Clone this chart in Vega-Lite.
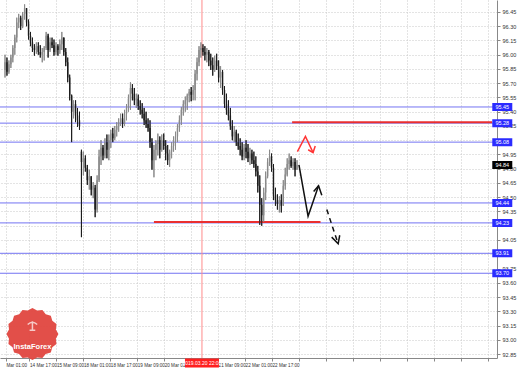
{
"$schema": "https://vega.github.io/schema/vega-lite/v6.json",
"width": 497, "height": 358,
"autosize": {"type": "none"},
"padding": {"left": 0, "top": 0, "right": 22, "bottom": 11},
"background": "white",
"config": {"view": {"stroke": null}, "font": "Liberation Sans",
"axis": {"labelOverlap": false, "labelBound": false, "labelFlush": false, "title": null}},
"datasets": {
"candles": [
{"b":0,"o":95.84,"h":96.00,"l":95.76,"c":95.92},
{"b":1,"o":95.92,"h":95.97,"l":95.78,"c":95.82},
{"b":2,"o":95.82,"h":95.94,"l":95.80,"c":95.90},
{"b":3,"o":95.90,"h":96.00,"l":95.86,"c":95.97},
{"b":4,"o":95.97,"h":96.10,"l":95.92,"c":96.07},
{"b":5,"o":96.07,"h":96.21,"l":96.00,"c":96.18},
{"b":6,"o":96.18,"h":96.39,"l":96.13,"c":96.34},
{"b":7,"o":96.34,"h":96.43,"l":96.28,"c":96.39},
{"b":8,"o":96.39,"h":96.41,"l":96.26,"c":96.30},
{"b":9,"o":96.30,"h":96.45,"l":96.28,"c":96.43},
{"b":10,"o":96.43,"h":96.53,"l":96.37,"c":96.49},
{"b":11,"o":96.49,"h":96.49,"l":96.30,"c":96.34},
{"b":12,"o":96.34,"h":96.37,"l":96.16,"c":96.20},
{"b":13,"o":96.20,"h":96.24,"l":96.09,"c":96.13},
{"b":14,"o":96.13,"h":96.18,"l":96.03,"c":96.07},
{"b":15,"o":96.07,"h":96.11,"l":95.99,"c":96.05},
{"b":16,"o":96.05,"h":96.13,"l":96.01,"c":96.09},
{"b":17,"o":96.09,"h":96.13,"l":96.00,"c":96.03},
{"b":18,"o":96.03,"h":96.10,"l":95.97,"c":96.00},
{"b":19,"o":96.00,"h":96.07,"l":95.92,"c":96.03},
{"b":20,"o":96.03,"h":96.09,"l":95.94,"c":96.07},
{"b":21,"o":96.07,"h":96.24,"l":96.05,"c":96.20},
{"b":22,"o":96.20,"h":96.22,"l":95.97,"c":96.05},
{"b":23,"o":96.05,"h":96.18,"l":96.03,"c":96.13},
{"b":24,"o":96.13,"h":96.18,"l":96.07,"c":96.10},
{"b":25,"o":96.10,"h":96.16,"l":95.99,"c":96.03},
{"b":26,"o":96.03,"h":96.13,"l":96.00,"c":96.09},
{"b":27,"o":96.09,"h":96.11,"l":95.99,"c":96.05},
{"b":28,"o":96.05,"h":96.16,"l":96.01,"c":96.11},
{"b":29,"o":96.11,"h":96.24,"l":96.05,"c":96.18},
{"b":30,"o":96.18,"h":96.18,"l":95.99,"c":96.03},
{"b":31,"o":96.03,"h":96.07,"l":95.88,"c":95.92},
{"b":32,"o":95.92,"h":95.97,"l":95.71,"c":95.76},
{"b":33,"o":95.76,"h":95.79,"l":95.52,"c":95.57},
{"b":34,"o":95.57,"h":95.58,"l":95.08,"c":95.40},
{"b":35,"o":95.40,"h":95.52,"l":95.33,"c":95.48},
{"b":36,"o":95.48,"h":95.52,"l":95.29,"c":95.36},
{"b":37,"o":95.36,"h":95.44,"l":95.24,"c":95.31},
{"b":38,"o":95.31,"h":95.40,"l":95.21,"c":95.25},
{"b":39,"o":94.98,"h":95.00,"l":94.08,"c":94.87},
{"b":40,"o":94.87,"h":94.98,"l":94.73,"c":94.91},
{"b":41,"o":94.91,"h":94.94,"l":94.77,"c":94.81},
{"b":42,"o":94.81,"h":94.84,"l":94.63,"c":94.68},
{"b":43,"o":94.68,"h":94.79,"l":94.58,"c":94.72},
{"b":44,"o":94.72,"h":94.72,"l":94.52,"c":94.58},
{"b":45,"o":94.58,"h":94.66,"l":94.49,"c":94.62},
{"b":46,"o":94.60,"h":94.63,"l":94.29,"c":94.37},
{"b":47,"o":94.37,"h":94.73,"l":94.34,"c":94.68},
{"b":48,"o":94.68,"h":95.00,"l":94.66,"c":94.93},
{"b":49,"o":94.93,"h":95.10,"l":94.84,"c":95.02},
{"b":50,"o":95.02,"h":95.05,"l":94.89,"c":94.94},
{"b":51,"o":94.94,"h":95.12,"l":94.91,"c":95.08},
{"b":52,"o":95.08,"h":95.16,"l":94.91,"c":95.00},
{"b":53,"o":95.00,"h":95.16,"l":94.89,"c":95.10},
{"b":54,"o":95.10,"h":95.21,"l":95.02,"c":95.17},
{"b":55,"o":95.17,"h":95.23,"l":95.08,"c":95.12},
{"b":56,"o":95.12,"h":95.25,"l":95.10,"c":95.21},
{"b":57,"o":95.21,"h":95.29,"l":95.14,"c":95.25},
{"b":58,"o":95.25,"h":95.33,"l":95.19,"c":95.29},
{"b":59,"o":95.29,"h":95.38,"l":95.25,"c":95.33},
{"b":60,"o":95.33,"h":95.38,"l":95.23,"c":95.27},
{"b":61,"o":95.27,"h":95.42,"l":95.25,"c":95.38},
{"b":62,"o":95.38,"h":95.48,"l":95.31,"c":95.44},
{"b":63,"o":95.44,"h":95.58,"l":95.40,"c":95.54},
{"b":64,"o":95.54,"h":95.71,"l":95.42,"c":95.65},
{"b":65,"o":95.65,"h":95.69,"l":95.52,"c":95.59},
{"b":66,"o":95.59,"h":95.65,"l":95.47,"c":95.52},
{"b":67,"o":95.52,"h":95.59,"l":95.44,"c":95.54},
{"b":68,"o":95.54,"h":95.58,"l":95.42,"c":95.46},
{"b":69,"o":95.46,"h":95.52,"l":95.37,"c":95.42},
{"b":70,"o":95.42,"h":95.49,"l":95.33,"c":95.38},
{"b":71,"o":95.38,"h":95.44,"l":95.26,"c":95.31},
{"b":72,"o":95.31,"h":95.40,"l":95.23,"c":95.27},
{"b":73,"o":95.27,"h":95.33,"l":95.19,"c":95.23},
{"b":74,"o":95.23,"h":95.31,"l":95.02,"c":95.08},
{"b":75,"o":95.08,"h":95.12,"l":94.79,"c":94.89},
{"b":76,"o":94.89,"h":95.05,"l":94.71,"c":95.00},
{"b":77,"o":95.00,"h":95.10,"l":94.89,"c":95.06},
{"b":78,"o":95.06,"h":95.17,"l":94.94,"c":95.10},
{"b":79,"o":95.10,"h":95.14,"l":94.91,"c":95.00},
{"b":80,"o":95.00,"h":95.16,"l":94.98,"c":95.10},
{"b":81,"o":95.10,"h":95.17,"l":95.00,"c":95.04},
{"b":82,"o":95.04,"h":95.10,"l":94.89,"c":94.96},
{"b":83,"o":94.96,"h":95.05,"l":94.84,"c":94.89},
{"b":84,"o":94.89,"h":95.00,"l":94.82,"c":94.98},
{"b":85,"o":94.98,"h":95.08,"l":94.91,"c":95.04},
{"b":86,"o":95.04,"h":95.14,"l":94.98,"c":95.10},
{"b":87,"o":95.10,"h":95.19,"l":95.00,"c":95.14},
{"b":88,"o":95.14,"h":95.27,"l":95.08,"c":95.23},
{"b":89,"o":95.23,"h":95.36,"l":95.19,"c":95.31},
{"b":90,"o":95.31,"h":95.45,"l":95.26,"c":95.42},
{"b":91,"o":95.42,"h":95.52,"l":95.36,"c":95.48},
{"b":92,"o":95.48,"h":95.56,"l":95.40,"c":95.52},
{"b":93,"o":95.52,"h":95.59,"l":95.42,"c":95.57},
{"b":94,"o":95.57,"h":95.64,"l":95.50,"c":95.61},
{"b":95,"o":95.61,"h":95.66,"l":95.51,"c":95.58},
{"b":96,"o":95.58,"h":95.68,"l":95.52,"c":95.63},
{"b":97,"o":95.63,"h":95.84,"l":95.52,"c":95.80},
{"b":98,"o":95.80,"h":95.97,"l":95.73,"c":95.92},
{"b":99,"o":95.92,"h":96.09,"l":95.88,"c":96.05},
{"b":100,"o":96.05,"h":96.13,"l":95.97,"c":96.07},
{"b":101,"o":96.07,"h":96.11,"l":95.99,"c":96.03},
{"b":102,"o":96.03,"h":96.09,"l":95.94,"c":96.00},
{"b":103,"o":96.00,"h":96.07,"l":95.92,"c":96.03},
{"b":104,"o":96.03,"h":96.05,"l":95.88,"c":95.94},
{"b":105,"o":95.94,"h":96.01,"l":95.84,"c":95.89},
{"b":106,"o":95.89,"h":95.97,"l":95.78,"c":95.84},
{"b":107,"o":95.84,"h":95.99,"l":95.82,"c":95.94},
{"b":108,"o":95.94,"h":96.01,"l":95.84,"c":95.88},
{"b":109,"o":95.88,"h":95.94,"l":95.71,"c":95.76},
{"b":110,"o":95.76,"h":95.88,"l":95.65,"c":95.82},
{"b":111,"o":95.82,"h":95.84,"l":95.58,"c":95.63},
{"b":112,"o":95.63,"h":95.67,"l":95.44,"c":95.48},
{"b":113,"o":95.48,"h":95.59,"l":95.37,"c":95.42},
{"b":114,"o":95.42,"h":95.52,"l":95.31,"c":95.36},
{"b":115,"o":95.36,"h":95.44,"l":95.21,"c":95.25},
{"b":116,"o":95.25,"h":95.31,"l":95.10,"c":95.14},
{"b":117,"o":95.14,"h":95.25,"l":95.08,"c":95.19},
{"b":118,"o":95.19,"h":95.21,"l":95.04,"c":95.08},
{"b":119,"o":95.08,"h":95.17,"l":95.00,"c":95.04},
{"b":120,"o":95.04,"h":95.12,"l":94.94,"c":95.00},
{"b":121,"o":95.00,"h":95.08,"l":94.89,"c":94.93},
{"b":122,"o":94.93,"h":95.06,"l":94.89,"c":95.02},
{"b":123,"o":95.02,"h":95.10,"l":94.91,"c":94.98},
{"b":124,"o":94.98,"h":95.06,"l":94.87,"c":94.91},
{"b":125,"o":94.91,"h":95.02,"l":94.84,"c":94.96},
{"b":126,"o":94.96,"h":95.00,"l":94.85,"c":94.89},
{"b":127,"o":94.89,"h":94.98,"l":94.81,"c":94.85},
{"b":128,"o":94.85,"h":94.93,"l":94.72,"c":94.77},
{"b":129,"o":94.77,"h":94.83,"l":94.55,"c":94.62},
{"b":130,"o":94.62,"h":94.73,"l":94.21,"c":94.42},
{"b":131,"o":94.42,"h":94.49,"l":94.20,"c":94.31},
{"b":132,"o":94.31,"h":94.60,"l":94.24,"c":94.55},
{"b":133,"o":94.55,"h":94.77,"l":94.47,"c":94.72},
{"b":134,"o":94.72,"h":94.91,"l":94.70,"c":94.87},
{"b":135,"o":94.87,"h":95.00,"l":94.83,"c":94.93},
{"b":136,"o":94.93,"h":94.96,"l":94.77,"c":94.81},
{"b":137,"o":94.81,"h":94.85,"l":94.47,"c":94.52},
{"b":138,"o":94.52,"h":94.60,"l":94.41,"c":94.47},
{"b":139,"o":94.47,"h":94.53,"l":94.37,"c":94.43},
{"b":140,"o":94.43,"h":94.51,"l":94.34,"c":94.47},
{"b":141,"o":94.47,"h":94.53,"l":94.34,"c":94.41},
{"b":142,"o":94.41,"h":94.68,"l":94.41,"c":94.62},
{"b":143,"o":94.62,"h":94.81,"l":94.58,"c":94.74},
{"b":144,"o":94.74,"h":94.91,"l":94.72,"c":94.85},
{"b":145,"o":94.85,"h":94.96,"l":94.79,"c":94.89},
{"b":146,"o":94.89,"h":94.93,"l":94.81,"c":94.83},
{"b":147,"o":94.83,"h":94.91,"l":94.79,"c":94.87},
{"b":148,"o":94.87,"h":94.91,"l":94.72,"c":94.79},
{"b":149,"o":94.79,"h":94.89,"l":94.79,"c":94.84}
],
"levels": [{"p":95.45},{"p":95.28},{"p":95.08},{"p":94.44},{"p":94.23},{"p":93.91},{"p":93.70}],
"redlevels": [{"x0":146.5,"x1":248.5,"p":95.29},{"x0":76,"x1":161,"p":94.24}],
"redarrow": [
{"g":1,"k":1,"x":149.2,"y":94.98},{"g":1,"k":2,"x":153.3,"y":95.14},{"g":1,"k":3,"x":157.2,"y":94.97},
{"g":2,"k":1,"x":154.7,"y":95.00},{"g":2,"k":2,"x":157.2,"y":94.97},{"g":2,"k":3,"x":158.3,"y":95.04}
],
"blackarrow": [
{"g":1,"k":1,"x":150,"y":94.84},{"g":1,"k":2,"x":154.65,"y":94.30},{"g":1,"k":3,"x":160,"y":94.62},
{"g":2,"k":1,"x":157.5,"y":94.56},{"g":2,"k":2,"x":160,"y":94.62},{"g":2,"k":3,"x":161.65,"y":94.52},
{"g":3,"k":1,"x":166.7,"y":94.08},{"g":3,"k":2,"x":170,"y":94.01},{"g":3,"k":3,"x":170.8,"y":94.10}
],
"dasharrow": [{"g":1,"k":1,"x":164.2,"y":94.37},{"g":1,"k":2,"x":170,"y":94.01}],
"current": [{"p":94.84}],
"marker": [{"b":100.5,"t":"2019.03.20 22:00"}],
"logo": [{"name":"InstaForex"}]
},
"layer": [
{
"data": {"name": "candles"},
"mark": {"type": "rule", "strokeWidth": 1},
"encoding": {
"x": {"field": "b", "type": "quantitative", "scale": {"domain": [0, 248.5], "nice": false, "zero": false},
"axis": {"orient": "bottom", "title": null, "tickCount": 200,
"values": [0.5, 12.5, 26.25, 40, 53.75, 67.5, 81.25, 95, 108.75, 122.5, 136.25, 150, 163.75, 177.5, 191.25, 205, 218.75, 232.5, 246.25],
"labelExpr": "datum.value == 0.5 ? 'Mar 01:00' : datum.value == 12.5 ? '14 Mar 17:00' : datum.value == 26.25 ? '15 Mar 09:00' : datum.value == 40 ? '18 Mar 01:00' : datum.value == 53.75 ? '18 Mar 17:00' : datum.value == 67.5 ? '19 Mar 09:00' : datum.value == 81.25 ? '20 Mar 01:00' : datum.value == 108.75 ? '21 Mar 09:00' : datum.value == 122.5 ? '22 Mar 01:00' : datum.value == 136.25 ? '22 Mar 17:00' : ''",
"labelAlign": "left", "labelFontSize": 4.6, "labelColor": "#333", "labelPadding": 1.5, "labelFont": "Liberation Sans",
"labelOverlap": false, "labelBound": false, "labelFlush": false,
"ticks": true, "tickSize": 3, "tickColor": "#888",
"grid": true, "gridColor": "#c8c8c8", "gridDash": [1, 2],
"domain": true, "domainColor": "#888"}},
"y": {"field": "l", "type": "quantitative", "scale": {"domain": [92.808, 96.576], "nice": false, "zero": false},
"axis": {"orient": "right", "title": null, "tickCount": 200,
"values": [92.85, 93, 93.15, 93.3, 93.45, 93.6, 93.75, 93.9, 94.05, 94.2, 94.35, 94.5, 94.65, 94.8, 94.95, 95.1, 95.25, 95.4, 95.55, 95.7, 95.85, 96, 96.15, 96.3, 96.45],
"labelExpr": "(datum.value == 93.9 || datum.value == 94.2 || datum.value == 95.1) ? '' : format(datum.value, '.2f')",
"labelFontSize": 5.5, "labelColor": "#333", "labelPadding": 2, "labelFont": "Liberation Sans",
"labelOverlap": false, "labelBound": false, "labelFlush": false,
"ticks": true, "tickSize": 3, "tickColor": "#888",
"grid": true, "gridColor": "#c8c8c8", "gridDash": [1, 2],
"domain": true, "domainColor": "#888"}},
"y2": {"field": "h"},
"color": {"condition": {"test": "datum.c >= datum.o", "value": "#8a8a8a"}, "value": "#1c1c1c"}
}
},
{
"data": {"name": "levels"},
"mark": {"type": "rule", "color": "#7373f2", "strokeWidth": 1},
"encoding": {
"y": {"field": "p", "type": "quantitative", "scale": {"domain": [92.808, 96.576], "nice": false, "zero": false}}
}
},
{
"data": {"name": "marker"},
"mark": {"type": "rule", "color": "#ff8a8a", "strokeWidth": 1},
"encoding": {
"x": {"field": "b", "type": "quantitative", "scale": {"domain": [0, 248.5], "nice": false, "zero": false}}
}
},
{
"data": {"name": "redlevels"},
"mark": {"type": "rule", "color": "#ea2f2f", "strokeWidth": 2},
"encoding": {
"x": {"field": "x0", "type": "quantitative", "scale": {"domain": [0, 248.5], "nice": false, "zero": false}},
"x2": {"field": "x1"},
"y": {"field": "p", "type": "quantitative", "scale": {"domain": [92.808, 96.576], "nice": false, "zero": false}}
}
},
{
"data": {"name": "candles"},
"mark": {"type": "rule", "strokeWidth": 1},
"encoding": {
"x": {"field": "b", "type": "quantitative", "scale": {"domain": [0, 248.5], "nice": false, "zero": false}},
"y": {"field": "l", "type": "quantitative", "scale": {"domain": [92.808, 96.576], "nice": false, "zero": false}},
"y2": {"field": "h"},
"color": {"condition": {"test": "datum.c >= datum.o", "value": "#8a8a8a"}, "value": "#1c1c1c"}
}
},
{
"data": {"name": "candles"},
"mark": {"type": "bar", "width": 1.4},
"encoding": {
"x": {"field": "b", "type": "quantitative", "scale": {"domain": [0, 248.5], "nice": false, "zero": false}},
"y": {"field": "o", "type": "quantitative", "scale": {"domain": [92.808, 96.576], "nice": false, "zero": false}},
"y2": {"field": "c"},
"color": {"condition": {"test": "datum.c >= datum.o", "value": "#8a8a8a"}, "value": "#1c1c1c"}
}
},
{
"data": {"name": "redarrow"},
"mark": {"type": "line", "color": "#ff3535", "strokeWidth": 1.5},
"encoding": {
"x": {"field": "x", "type": "quantitative", "scale": {"domain": [0, 248.5], "nice": false, "zero": false}},
"y": {"field": "y", "type": "quantitative", "scale": {"domain": [92.808, 96.576], "nice": false, "zero": false}},
"detail": {"field": "g"},
"order": {"field": "k"}
}
},
{
"data": {"name": "blackarrow"},
"mark": {"type": "line", "color": "#111111", "strokeWidth": 1.5},
"encoding": {
"x": {"field": "x", "type": "quantitative", "scale": {"domain": [0, 248.5], "nice": false, "zero": false}},
"y": {"field": "y", "type": "quantitative", "scale": {"domain": [92.808, 96.576], "nice": false, "zero": false}},
"detail": {"field": "g"},
"order": {"field": "k"}
}
},
{
"data": {"name": "dasharrow"},
"mark": {"type": "line", "color": "#111111", "strokeWidth": 1.5, "strokeDash": [5, 4]},
"encoding": {
"x": {"field": "x", "type": "quantitative", "scale": {"domain": [0, 248.5], "nice": false, "zero": false}},
"y": {"field": "y", "type": "quantitative", "scale": {"domain": [92.808, 96.576], "nice": false, "zero": false}},
"detail": {"field": "g"},
"order": {"field": "k"}
}
},
{
"data": {"name": "levels"},
"mark": {"type": "tick", "orient": "horizontal", "size": 20, "thickness": 8, "color": "#2b2bff", "opacity": 1},
"encoding": {
"x": {"datum": 253.75, "type": "quantitative", "scale": {"domain": [0, 248.5], "nice": false, "zero": false}},
"y": {"field": "p", "type": "quantitative", "scale": {"domain": [92.808, 96.576], "nice": false, "zero": false}}
}
},
{
"data": {"name": "levels"},
"mark": {"type": "text", "color": "white", "fontSize": 5.5, "align": "center", "baseline": "middle"},
"encoding": {
"x": {"datum": 253.75, "type": "quantitative", "scale": {"domain": [0, 248.5], "nice": false, "zero": false}},
"y": {"field": "p", "type": "quantitative", "scale": {"domain": [92.808, 96.576], "nice": false, "zero": false}},
"text": {"field": "p", "type": "quantitative", "format": ".2f"}
}
},
{
"data": {"name": "current"},
"mark": {"type": "tick", "orient": "horizontal", "size": 20, "thickness": 8, "color": "#000000", "opacity": 1},
"encoding": {
"x": {"datum": 253.75, "type": "quantitative", "scale": {"domain": [0, 248.5], "nice": false, "zero": false}},
"y": {"field": "p", "type": "quantitative", "scale": {"domain": [92.808, 96.576], "nice": false, "zero": false}}
}
},
{
"data": {"name": "current"},
"mark": {"type": "text", "color": "white", "fontSize": 5.5, "align": "center", "baseline": "middle"},
"encoding": {
"x": {"datum": 253.75, "type": "quantitative", "scale": {"domain": [0, 248.5], "nice": false, "zero": false}},
"y": {"field": "p", "type": "quantitative", "scale": {"domain": [92.808, 96.576], "nice": false, "zero": false}},
"text": {"field": "p", "type": "quantitative", "format": ".2f"}
}
},
{
"data": {"name": "marker"},
"mark": {"type": "tick", "orient": "horizontal", "size": 34, "thickness": 9, "color": "#ff1f1f", "opacity": 1},
"encoding": {
"x": {"field": "b", "type": "quantitative", "scale": {"domain": [0, 248.5], "nice": false, "zero": false}},
"y": {"datum": 92.755, "type": "quantitative", "scale": {"domain": [92.808, 96.576], "nice": false, "zero": false}}
}
},
{
"data": {"name": "marker"},
"mark": {"type": "text", "color": "white", "fontSize": 5, "align": "center", "baseline": "middle"},
"encoding": {
"x": {"field": "b", "type": "quantitative", "scale": {"domain": [0, 248.5], "nice": false, "zero": false}},
"y": {"datum": 92.755, "type": "quantitative", "scale": {"domain": [92.808, 96.576], "nice": false, "zero": false}},
"text": {"field": "t", "type": "nominal"}
}
},
{
"data": {"name": "logo"},
"mark": {"type": "point", "filled": true, "color": "#e0463f", "opacity": 0.95, "size": 2700,
"shape": "M1,0L0.902,0.18L0.924,0.383L0.765,0.511L0.707,0.707L0.511,0.765L0.383,0.924L0.18,0.902L0,1L-0.18,0.902L-0.383,0.924L-0.511,0.765L-0.707,0.707L-0.765,0.511L-0.924,0.383L-0.902,0.18L-1,0L-0.902,-0.18L-0.924,-0.383L-0.765,-0.511L-0.707,-0.707L-0.511,-0.765L-0.383,-0.924L-0.18,-0.902L0,-1L0.18,-0.902L0.383,-0.924L0.511,-0.765L0.707,-0.707L0.765,-0.511L0.924,-0.383L0.902,-0.18Z"},
"encoding": {
"x": {"datum": 14, "type": "quantitative", "scale": {"domain": [0, 248.5], "nice": false, "zero": false}},
"y": {"datum": 93.06, "type": "quantitative", "scale": {"domain": [92.808, 96.576], "nice": false, "zero": false}}
}
},
{
"data": {"name": "logo"},
"mark": {"type": "point", "filled": false, "color": "white", "strokeWidth": 1.5, "size": 90, "shape": "M-1,-0.2Q0,-1.2,1,-0.2M0,-0.9L0,1M-0.6,1L0.6,1"},
"encoding": {
"x": {"datum": 14, "type": "quantitative", "scale": {"domain": [0, 248.5], "nice": false, "zero": false}},
"y": {"datum": 93.15, "type": "quantitative", "scale": {"domain": [92.808, 96.576], "nice": false, "zero": false}}
}
},
{
"data": {"name": "logo"},
"mark": {"type": "text", "color": "white", "fontSize": 7.5, "fontWeight": "bold", "align": "center", "baseline": "middle"},
"encoding": {
"x": {"datum": 14, "type": "quantitative", "scale": {"domain": [0, 248.5], "nice": false, "zero": false}},
"y": {"datum": 92.92, "type": "quantitative", "scale": {"domain": [92.808, 96.576], "nice": false, "zero": false}},
"text": {"field": "name", "type": "nominal"}
}
}
]
}
